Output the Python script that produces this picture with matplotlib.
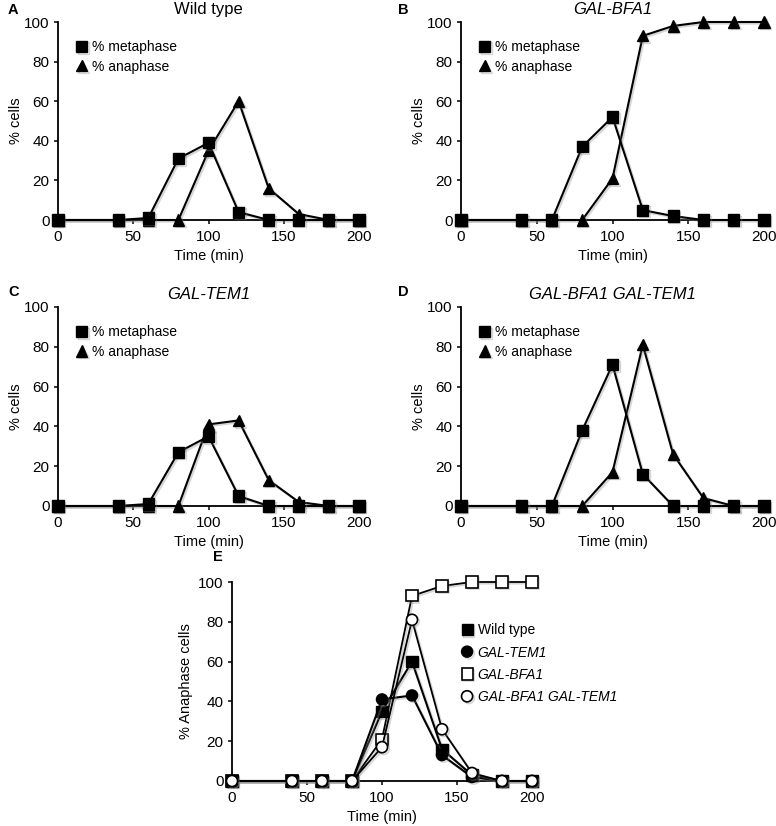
import matplotlib
matplotlib.use("Agg")
import matplotlib.pyplot as plt
import matplotlib.patheffects as pe

plt.rcParams['font.family'] = ['Liberation Sans', 'DejaVu Sans']

time = [0, 40, 60, 80, 100, 120, 140, 160, 180, 200]

wt_meta = [0, 0, 1, 31, 39, 4, 0, 0, 0, 0]
wt_ana = [0, 0, 0, 0, 35, 60, 16, 3, 0, 0]
bfa_meta = [0, 0, 0, 37, 52, 5, 2, 0, 0, 0]
bfa_ana = [0, 0, 0, 0, 21, 93, 98, 100, 100, 100]
tem_meta = [0, 0, 1, 27, 35, 5, 0, 0, 0, 0]
tem_ana = [0, 0, 0, 0, 41, 43, 13, 2, 0, 0]
both_meta = [0, 0, 0, 38, 71, 16, 0, 0, 0, 0]
both_ana = [0, 0, 0, 0, 17, 81, 26, 4, 0, 0]

panel_titles = ["Wild type", "GAL-BFA1", "GAL-TEM1", "GAL-BFA1 GAL-TEM1"]
panel_letters = ["A", "B", "C", "D", "E"]
legend_labels = ["% metaphase", "% anaphase"]
e_labels = ["Wild type", "GAL-TEM1", "GAL-BFA1", "GAL-BFA1 GAL-TEM1"]

W, H = 776, 826
fig = plt.figure(figsize=(W / 100, H / 100), dpi=100)

def add_ax(l, t, r, b):
    return fig.add_axes([l / W, 1 - b / H, (r - l) / W, (b - t) / H])

shadow = [pe.SimpleLineShadow(offset=(1.2, -1.2), shadow_color='0.55', alpha=0.35), pe.Normal()]

def style(ax, ylabel, ypad):
    ax.set_xlim(0, 200)
    ax.set_ylim(0, 100)
    ax.set_xticks([0, 50, 100, 150, 200])
    ax.set_yticks([0, 20, 40, 60, 80, 100])
    for s in ['top', 'right']:
        ax.spines[s].set_visible(False)
    for s in ['left', 'bottom']:
        ax.spines[s].set_linewidth(1.3)
    ax.tick_params(axis='both', direction='out', length=3, width=1.1, labelsize=11)
    ax.tick_params(axis='x', pad=4)
    ax.tick_params(axis='y', pad=3)
    ax.set_xlabel("Time (min)", fontsize=10.5, labelpad=4)
    ax.set_ylabel(ylabel, fontsize=10.5, labelpad=ypad)

boxes = [(58, 22, 359, 220), (461, 22, 764, 220), (58, 307, 359, 506), (461, 307, 764, 506)]
data = [(wt_meta, wt_ana), (bfa_meta, bfa_ana), (tem_meta, tem_ana), (both_meta, both_ana)]
letter_pos = [(8, 10), (398, 10), (8, 292), (398, 292)]

for i, (box, (meta, ana)) in enumerate(zip(boxes, data)):
    ax = add_ax(*box)
    l1, = ax.plot(time, ana, '-^', color='black', lw=1.5, ms=8, clip_on=False, zorder=3,
                  path_effects=shadow)
    l0, = ax.plot(time, meta, '-s', color='black', lw=1.5, ms=8, clip_on=False, zorder=4,
                  path_effects=shadow)
    style(ax, "% cells", 1)
    ax.set_title(panel_titles[i], fontsize=12, pad=6, style='normal' if i == 0 else 'italic')
    leg = ax.legend([l0, l1], legend_labels, loc='upper left', bbox_to_anchor=(0.03, 0.95),
                    frameon=False, handlelength=0.9, handletextpad=0.3, labelspacing=0.4,
                    fontsize=10, borderaxespad=0.2)
    for h in leg.legend_handles:
        h.set_linestyle('None')
    fig.text(letter_pos[i][0] / W, 1 - letter_pos[i][1] / H, panel_letters[i],
             fontsize=10.5, fontweight='bold', ha='left', va='center')

axE = add_ax(232, 582, 532, 781)
h_bfa, = axE.plot(time, bfa_ana, '-s', color='black', mfc='white', mec='black', mew=1.2,
                  lw=1.3, ms=8, clip_on=False, zorder=3, path_effects=shadow)
h_wt, = axE.plot(time, wt_ana, '-s', color='black', lw=1.5, ms=8, clip_on=False, zorder=4,
                 path_effects=shadow)
h_tem, = axE.plot(time, tem_ana, '-o', color='black', lw=1.5, ms=8, clip_on=False, zorder=5,
                  path_effects=shadow)
h_both, = axE.plot(time, both_ana, '-o', color='black', mfc='white', mec='black', mew=1.2,
                   lw=1.3, ms=8, clip_on=False, zorder=6, path_effects=shadow)
style(axE, "% Anaphase cells", 4)
leg = axE.legend([h_wt, h_tem, h_bfa, h_both], e_labels, loc='upper left',
                 bbox_to_anchor=(0.735, 0.835), frameon=False, handlelength=0.9,
                 handletextpad=0.3, labelspacing=0.6, fontsize=10, borderaxespad=0.2)
for h in leg.legend_handles:
    h.set_linestyle('None')
for t, lab in zip(leg.get_texts(), e_labels):
    if lab != "Wild type":
        t.set_style('italic')
fig.text(213 / W, 1 - 557 / H, panel_letters[4], fontsize=10.5, fontweight='bold',
         ha='left', va='center')

fig.savefig("out.png", dpi=100)
